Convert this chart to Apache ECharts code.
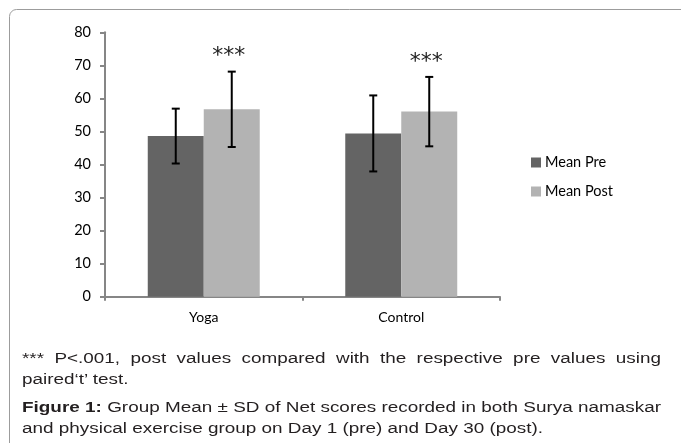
<!DOCTYPE html>
<html>
<head>
<meta charset="utf-8">
<script src="https://cdn.jsdelivr.net/npm/echarts@6/dist/echarts.min.js"></script>
<style>
html,body{margin:0;padding:0;background:#fff;}
#wrap{position:relative;width:681px;height:443px;overflow:hidden;}
#chart{position:absolute;left:0;top:0;width:681px;height:443px;}
.cap{position:absolute;left:22px;font-family:"Liberation Sans",Arial,sans-serif;font-size:14px;line-height:20px;color:#231f20;white-space:nowrap;transform-origin:0 0;}
.just{text-align:justify;text-align-last:justify;white-space:normal;}
</style>
</head>
<body>
<div id="wrap">
<div id="chart"></div>
<div class="cap just" id="l1" style="top:348px;">*** P&lt;.001, post values compared with the respective pre values using</div>
<div class="cap" id="l2" style="top:368.5px;">paired‘t’ test.</div>
<div class="cap just" id="l3" style="top:397px;"><b>Figure 1:</b> Group Mean ± SD of Net scores recorded in both Surya namaskar</div>
<div class="cap" id="l4" style="top:418px;">and physical exercise group on Day 1 (pre) and Day 30 (post).</div>
</div>
<script>
// ---- data ----
var categories = ['Yoga', 'Control'];
var seriesNames = ['Mean Pre', 'Mean Post'];
var meanPre = [48.6, 49.4];
var meanPost = [56.7, 56.0];
var sdPre = [8.3, 11.5];
var sdPost = [11.4, 10.5];
var significance = ['***', '***'];
var yTicks = [0, 10, 20, 30, 40, 50, 60, 70, 80];

// ---- caption scaling ----
var SX = 1.35, CAPW = 639;
['l1','l2','l3','l4'].forEach(function(id){
  var el = document.getElementById(id);
  el.style.transform = 'scaleX(' + SX + ')';
  if (el.classList.contains('just')) el.style.width = (CAPW / SX) + 'px';
});

var chart = echarts.init(document.getElementById('chart'), null, {renderer: 'canvas'});
var GAP = 0.433; // barCategoryGap fraction
var preColor = '#646464', postColor = '#b3b3b3';
var labelFont = 'Lato, "Open Sans", sans-serif';

function errItem(means, sds, side, withStars) {
  return function (params, api) {
    var i = api.value(0);
    var m = means[i], s = sds[i];
    var band = api.size([1, 0])[0];
    var barW = band * (1 - GAP) / 2;
    var c = api.coord([i, m]);
    var x = c[0] + side * barW / 2;
    var top = api.coord([i, m + s])[1];
    var bot = api.coord([i, m - s])[1];
    var cap = 4;
    var st = {stroke: '#000', lineWidth: 2};
    var children = [
      {type: 'line', shape: {x1: x, y1: top, x2: x, y2: bot}, style: st},
      {type: 'line', shape: {x1: x - cap, y1: top, x2: x + cap, y2: top}, style: st},
      {type: 'line', shape: {x1: x - cap, y1: bot, x2: x + cap, y2: bot}, style: st}
    ];
    if (withStars) {
      children.push({type: 'text', style: {
        text: significance[i], x: x - 3, y: top - 26, align: 'center', verticalAlign: 'top',
        font: '22px "DejaVu Sans", sans-serif', fill: '#222'
      }});
    }
    return {type: 'group', children: children};
  };
}

chart.setOption({
  animation: false,
  graphic: [{
    type: 'rect', silent: true,
    shape: {x: 9.5, y: 9.5, width: 720, height: 500, r: 7},
    style: {fill: 'none', stroke: '#9c9c9c', lineWidth: 1}
  }],
  grid: {left: 105, right: 181, top: 32.3, bottom: 146.3, containLabel: false},
  legend: {
    orient: 'vertical', left: 526, top: 150,
    itemWidth: 10, itemHeight: 10, itemGap: 14,
    icon: 'rect',
    textStyle: {fontFamily: labelFont, fontSize: 14.5, color: '#000', padding: [0,0,0,-1]},
    data: seriesNames
  },
  xAxis: {
    type: 'category', data: categories,
    axisLine: {lineStyle: {color: '#868686', width: 2}},
    axisTick: {show: true, length: 4, lineStyle: {color: '#868686', width: 2}},
    axisLabel: {fontFamily: labelFont, fontSize: 14, color: '#000', margin: 14}
  },
  yAxis: {
    type: 'value', min: yTicks[0], max: yTicks[yTicks.length - 1], interval: 10,
    splitLine: {show: false},
    axisLine: {show: true, lineStyle: {color: '#868686', width: 2}},
    axisTick: {show: true, length: 5, lineStyle: {color: '#868686', width: 2}},
    axisLabel: {fontFamily: labelFont, fontSize: 14.5, color: '#000', margin: 14}
  },
  series: [
    {name: seriesNames[0], type: 'bar', data: meanPre, barGap: '0%', barCategoryGap: (GAP * 100) + '%',
     itemStyle: {color: preColor}},
    {name: seriesNames[1], type: 'bar', data: meanPost, barGap: '0%', barCategoryGap: (GAP * 100) + '%',
     itemStyle: {color: postColor}},
    {type: 'custom', data: categories.map(function (c, i) { return [i]; }),
     renderItem: errItem(meanPre, sdPre, -1, false), z: 10},
    {type: 'custom', data: categories.map(function (c, i) { return [i]; }),
     renderItem: errItem(meanPost, sdPost, 1, true), z: 10}
  ]
});
</script>
</body>
</html>
